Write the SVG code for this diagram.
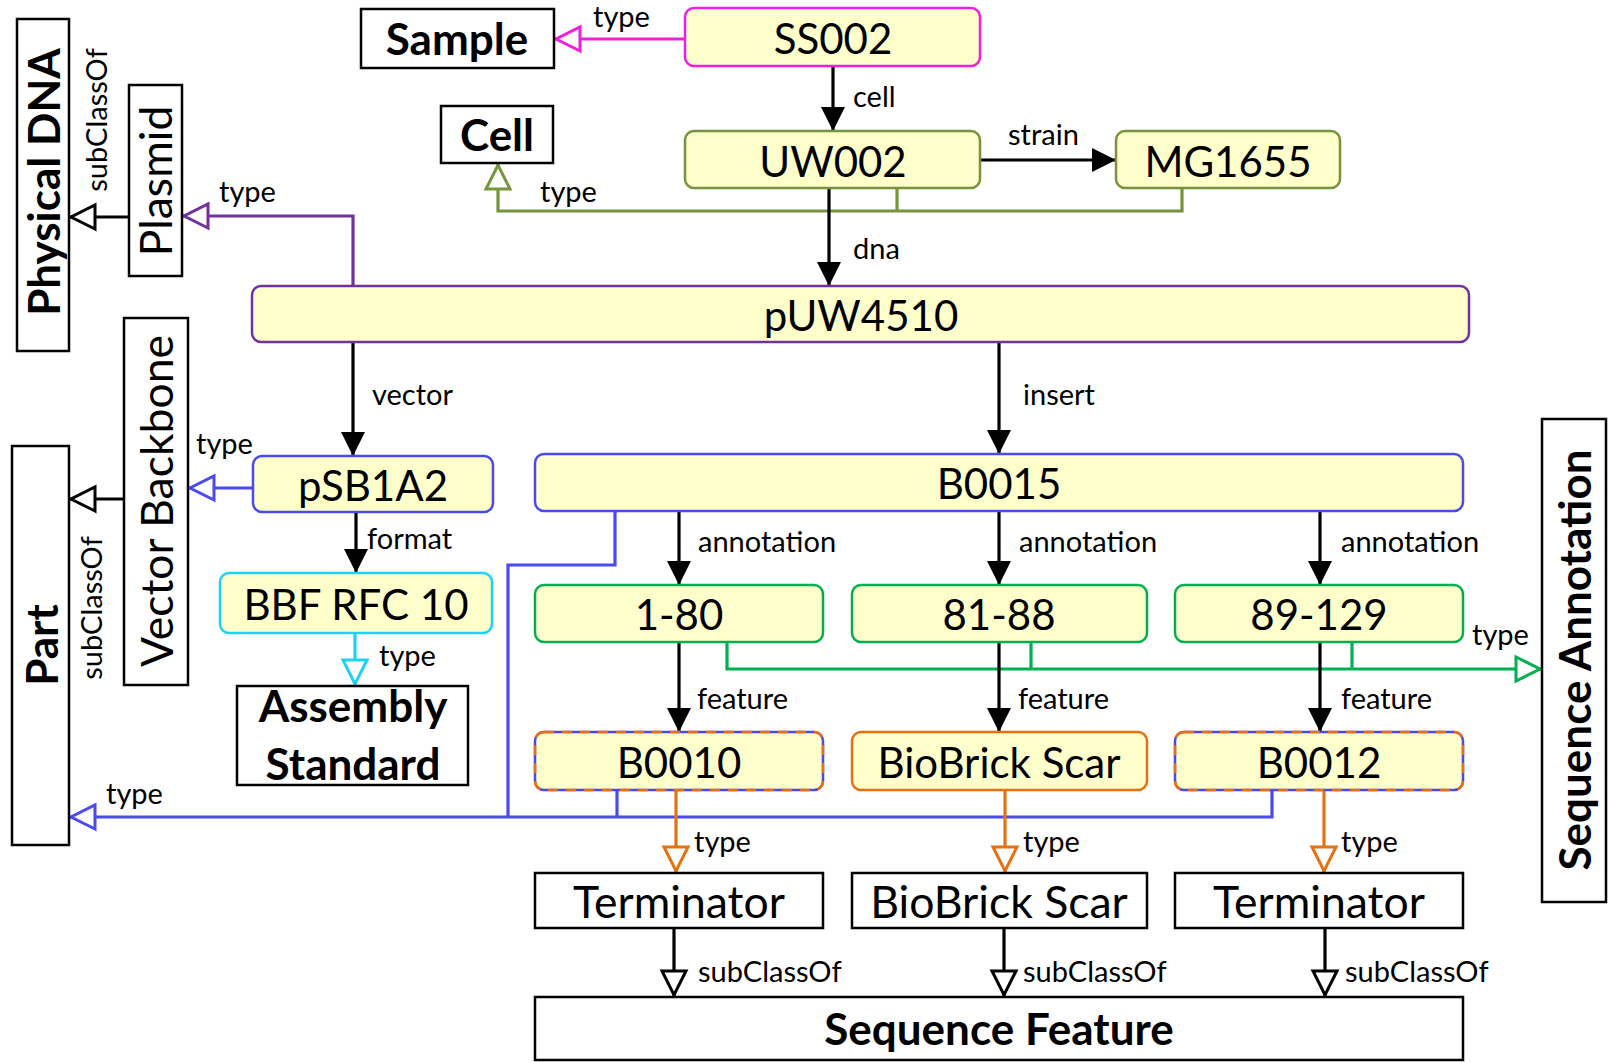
<svg xmlns="http://www.w3.org/2000/svg" width="1608" height="1062" viewBox="0 0 1608 1062">
  <style>
    .inst { fill: #FFFFCC; stroke-width: 2.5; }
    .cls { fill: #FFFFFF; stroke: #000000; stroke-width: 2.5; }
    .nt { font-family: Lato, "Liberation Sans", sans-serif; font-size: 42px; fill: #000; text-anchor: middle; }
    .ct { font-family: Lato, "Liberation Sans", sans-serif; font-size: 44.5px; fill: #000; text-anchor: middle; }
    .bt { font-family: Lato, "Liberation Sans", sans-serif; font-size: 44px; font-weight: bold; fill: #000; text-anchor: middle; }
    .lb { font-family: Lato, "Liberation Sans", sans-serif; font-size: 29px; fill: #000; }
    .lbm { font-family: Lato, "Liberation Sans", sans-serif; font-size: 29px; fill: #000; text-anchor: middle; }
    .rel { fill: none; stroke: #000; stroke-width: 3.2; marker-end: url(#filled); }
    .sub { fill: none; stroke: #000; stroke-width: 3.2; marker-end: url(#h-black); }
    .ln { fill: none; stroke-width: 3.2; }
  </style>
  <defs>
    <marker id="filled" markerUnits="userSpaceOnUse" viewBox="0 0 24 24" markerWidth="24" markerHeight="24" refX="24" refY="12" orient="auto">
      <path d="M0,0 L24,12 L0,24 Z" fill="#000"/>
    </marker>
    <marker id="h-black" markerUnits="userSpaceOnUse" viewBox="-4 -4 34 32" markerWidth="34" markerHeight="32" refX="26" refY="12" orient="auto" overflow="visible">
      <path d="M0,0 L24,12 L0,24 Z" fill="#fff" stroke="#000" stroke-width="3"/>
    </marker>
    <marker id="h-magenta" markerUnits="userSpaceOnUse" viewBox="-4 -4 34 32" markerWidth="34" markerHeight="32" refX="26" refY="12" orient="auto" overflow="visible">
      <path d="M0,0 L24,12 L0,24 Z" fill="#fff" stroke="#F01EE0" stroke-width="3"/>
    </marker>
    <marker id="h-olive" markerUnits="userSpaceOnUse" viewBox="-4 -4 34 32" markerWidth="34" markerHeight="32" refX="26" refY="12" orient="auto" overflow="visible">
      <path d="M0,0 L24,12 L0,24 Z" fill="#fff" stroke="#77933C" stroke-width="3"/>
    </marker>
    <marker id="h-purple" markerUnits="userSpaceOnUse" viewBox="-4 -4 34 32" markerWidth="34" markerHeight="32" refX="26" refY="12" orient="auto" overflow="visible">
      <path d="M0,0 L24,12 L0,24 Z" fill="#fff" stroke="#7030A0" stroke-width="3"/>
    </marker>
    <marker id="h-blue" markerUnits="userSpaceOnUse" viewBox="-4 -4 34 32" markerWidth="34" markerHeight="32" refX="26" refY="12" orient="auto" overflow="visible">
      <path d="M0,0 L24,12 L0,24 Z" fill="#fff" stroke="#4A4AEE" stroke-width="3"/>
    </marker>
    <marker id="h-cyan" markerUnits="userSpaceOnUse" viewBox="-4 -4 34 32" markerWidth="34" markerHeight="32" refX="26" refY="12" orient="auto" overflow="visible">
      <path d="M0,0 L24,12 L0,24 Z" fill="#fff" stroke="#1ED2F2" stroke-width="3"/>
    </marker>
    <marker id="h-green" markerUnits="userSpaceOnUse" viewBox="-4 -4 34 32" markerWidth="34" markerHeight="32" refX="26" refY="12" orient="auto" overflow="visible">
      <path d="M0,0 L24,12 L0,24 Z" fill="#fff" stroke="#00B050" stroke-width="3"/>
    </marker>
    <marker id="h-orange" markerUnits="userSpaceOnUse" viewBox="-4 -4 34 32" markerWidth="34" markerHeight="32" refX="26" refY="12" orient="auto" overflow="visible">
      <path d="M0,0 L24,12 L0,24 Z" fill="#fff" stroke="#E8700E" stroke-width="3"/>
    </marker>
  </defs>

  <rect width="1608" height="1062" fill="#ffffff"/>

  <!-- connectors -->
  <g id="connectors">
    <!-- sample / cell -->
    <path class="ln" stroke="#F01EE0" marker-end="url(#h-magenta)" d="M685,39 H554"/>
    <path class="rel" d="M833,66 V131"/>
    <path class="rel" d="M980,160 H1116"/>
    <path class="ln" stroke="#77933C" d="M897,188 V211"/>
    <path class="ln" stroke="#77933C" marker-end="url(#h-olive)" d="M1182,188 V211 H498 V163"/>
    <path class="rel" d="M829,188 V286"/>
    <!-- plasmid -->
    <path class="ln" stroke="#7030A0" marker-end="url(#h-purple)" d="M353,286 V216 H182"/>
    <path class="sub" d="M129,217 H69"/>
    <!-- vector side -->
    <path class="rel" d="M353,342 V456"/>
    <path class="ln" stroke="#4A4AEE" marker-end="url(#h-blue)" d="M253,488 H188"/>
    <path class="sub" d="M124,499 H69"/>
    <path class="rel" d="M356,512 V573"/>
    <path class="ln" stroke="#1ED2F2" marker-end="url(#h-cyan)" d="M355,633 V686"/>
    <!-- insert side -->
    <path class="rel" d="M999,342 V454"/>
    <path class="rel" d="M679,511 V585"/>
    <path class="rel" d="M999,511 V585"/>
    <path class="rel" d="M1320,511 V585"/>
    <path class="ln" stroke="#00B050" d="M1031,642 V669"/>
    <path class="ln" stroke="#00B050" d="M1352,642 V669"/>
    <path class="ln" stroke="#00B050" marker-end="url(#h-green)" d="M727,642 V669 H1542"/>
    <path class="rel" d="M679,642 V732"/>
    <path class="rel" d="M999,642 V732"/>
    <path class="rel" d="M1320,642 V732"/>
    <!-- parts typed as Part -->
    <path class="ln" stroke="#4A4AEE" d="M615,511 V565 H508 V817"/>
    <path class="ln" stroke="#4A4AEE" d="M617,790 V817"/>
    <path class="ln" stroke="#4A4AEE" marker-end="url(#h-blue)" d="M1272,790 V817 H69"/>
    <!-- feature types -->
    <path class="ln" stroke="#E8700E" marker-end="url(#h-orange)" d="M676,790 V873"/>
    <path class="ln" stroke="#E8700E" marker-end="url(#h-orange)" d="M1005,790 V873"/>
    <path class="ln" stroke="#E8700E" marker-end="url(#h-orange)" d="M1324,790 V873"/>
    <path class="sub" d="M674,928 V997"/>
    <path class="sub" d="M1004,928 V997"/>
    <path class="sub" d="M1325,928 V997"/>

    <!-- connector labels -->
    <text class="lb" x="593" y="27">type</text>
    <text class="lb" x="853" y="107">cell</text>
    <text class="lb" x="1008" y="145">strain</text>
    <text class="lb" x="540" y="202">type</text>
    <text class="lb" x="853" y="259">dna</text>
    <text class="lb" x="219" y="202">type</text>
    <text class="lbm" transform="translate(107,120) rotate(-90)">subClassOf</text>
    <text class="lb" x="372" y="405">vector</text>
    <text class="lb" x="1023" y="405">insert</text>
    <text class="lb" x="196" y="454">type</text>
    <text class="lbm" transform="translate(102,608) rotate(-90)">subClassOf</text>
    <text class="lb" x="367" y="549">format</text>
    <text class="lb" x="379" y="666">type</text>
    <text class="lb" x="698" y="552">annotation</text>
    <text class="lb" x="1019" y="552">annotation</text>
    <text class="lb" x="1341" y="552">annotation</text>
    <text class="lb" x="1472" y="645">type</text>
    <text class="lb" x="697" y="709">feature</text>
    <text class="lb" x="1018" y="709">feature</text>
    <text class="lb" x="1341" y="709">feature</text>
    <text class="lb" x="106" y="804">type</text>
    <text class="lb" x="694" y="852">type</text>
    <text class="lb" x="1023" y="852">type</text>
    <text class="lb" x="1341" y="852">type</text>
    <text class="lb" x="698" y="982">subClassOf</text>
    <text class="lb" x="1023" y="982">subClassOf</text>
    <text class="lb" x="1345" y="982">subClassOf</text>
  </g>

  <!-- class nodes -->
  <g id="physical-dna">
    <rect class="cls" x="17" y="19" width="52" height="332"/>
    <text class="bt" transform="translate(44,182) rotate(-90)" y="16">Physical DNA</text>
  </g>
  <g id="plasmid">
    <rect class="cls" x="129" y="85" width="53" height="191"/>
    <text class="ct" transform="translate(156,181) rotate(-90)" y="16">Plasmid</text>
  </g>
  <g id="sample">
    <rect class="cls" x="361" y="9" width="193" height="59"/>
    <text class="bt" x="457" y="55" font-size="45">Sample</text>
  </g>
  <g id="cell">
    <rect class="cls" x="441" y="106" width="112" height="57"/>
    <text class="bt" x="497" y="151">Cell</text>
  </g>
  <g id="vector-backbone">
    <rect class="cls" x="124" y="318" width="64" height="367"/>
    <text class="ct" transform="translate(157,501) rotate(-90)" y="16" font-size="44">Vector Backbone</text>
  </g>
  <g id="part">
    <rect class="cls" x="12" y="446" width="57" height="399"/>
    <text class="bt" transform="translate(42,645) rotate(-90)" y="16">Part</text>
  </g>
  <g id="assembly-standard">
    <rect class="cls" x="237" y="686" width="231" height="99"/>
    <text class="bt" x="353" y="722">Assembly</text>
    <text class="bt" x="353" y="780">Standard</text>
  </g>
  <g id="sequence-annotation">
    <rect class="cls" x="1542" y="419" width="64" height="483"/>
    <text class="bt" transform="translate(1575,660) rotate(-90)" y="16" font-size="45">Sequence Annotation</text>
  </g>
  <g id="terminator-1">
    <rect class="cls" x="535" y="873" width="288" height="55"/>
    <text class="ct" x="679" y="918">Terminator</text>
  </g>
  <g id="biobrick-scar-class">
    <rect class="cls" x="852" y="873" width="295" height="55"/>
    <text class="ct" x="999" y="918" font-size="44">BioBrick Scar</text>
  </g>
  <g id="terminator-2">
    <rect class="cls" x="1175" y="873" width="288" height="55"/>
    <text class="ct" x="1319" y="918">Terminator</text>
  </g>
  <g id="sequence-feature">
    <rect class="cls" x="535" y="997" width="928" height="63"/>
    <text class="bt" x="999" y="1045">Sequence Feature</text>
  </g>

  <!-- instance nodes -->
  <g id="ss002">
    <rect class="inst" stroke="#F01EE0" x="685" y="8" width="295" height="58" rx="9"/>
    <text class="nt" x="833" y="54">SS002</text>
  </g>
  <g id="uw002">
    <rect class="inst" stroke="#77933C" x="685" y="131" width="295" height="57" rx="9"/>
    <text class="nt" x="833" y="177">UW002</text>
  </g>
  <g id="mg1655">
    <rect class="inst" stroke="#77933C" x="1116" y="131" width="224" height="57" rx="9"/>
    <text class="nt" x="1228" y="177">MG1655</text>
  </g>
  <g id="puw4510">
    <rect class="inst" stroke="#7030A0" x="252" y="286" width="1217" height="56" rx="9"/>
    <text class="nt" x="861" y="331">pUW4510</text>
  </g>
  <g id="psb1a2">
    <rect class="inst" stroke="#4A4AEE" x="253" y="456" width="240" height="56" rx="9"/>
    <text class="nt" x="373" y="501">pSB1A2</text>
  </g>
  <g id="bbf-rfc-10">
    <rect class="inst" stroke="#1ED2F2" x="220" y="573" width="272" height="60" rx="9"/>
    <text class="nt" x="356" y="620" font-size="43">BBF RFC 10</text>
  </g>
  <g id="b0015">
    <rect class="inst" stroke="#4A4AEE" x="535" y="454" width="928" height="57" rx="9"/>
    <text class="nt" x="999" y="499">B0015</text>
  </g>
  <g id="ann-1-80">
    <rect class="inst" stroke="#00B050" x="535" y="585" width="288" height="57" rx="9"/>
    <text class="nt" x="679" y="630">1-80</text>
  </g>
  <g id="ann-81-88">
    <rect class="inst" stroke="#00B050" x="852" y="585" width="295" height="57" rx="9"/>
    <text class="nt" x="999" y="630">81-88</text>
  </g>
  <g id="ann-89-129">
    <rect class="inst" stroke="#00B050" x="1175" y="585" width="288" height="57" rx="9"/>
    <text class="nt" x="1319" y="630">89-129</text>
  </g>
  <g id="b0010">
    <rect class="inst" stroke="#4A4AEE" x="535" y="732" width="288" height="58" rx="9"/>
    <rect fill="none" stroke="#E8700E" stroke-width="2.5" stroke-dasharray="10 8" x="535" y="732" width="288" height="58" rx="9"/>
    <text class="nt" x="679" y="778">B0010</text>
  </g>
  <g id="biobrick-scar">
    <rect class="inst" stroke="#E8700E" x="852" y="732" width="295" height="58" rx="9"/>
    <text class="nt" x="999" y="778" font-size="43">BioBrick Scar</text>
  </g>
  <g id="b0012">
    <rect class="inst" stroke="#4A4AEE" x="1175" y="732" width="288" height="58" rx="9"/>
    <rect fill="none" stroke="#E8700E" stroke-width="2.5" stroke-dasharray="10 8" x="1175" y="732" width="288" height="58" rx="9"/>
    <text class="nt" x="1319" y="778">B0012</text>
  </g>
</svg>
